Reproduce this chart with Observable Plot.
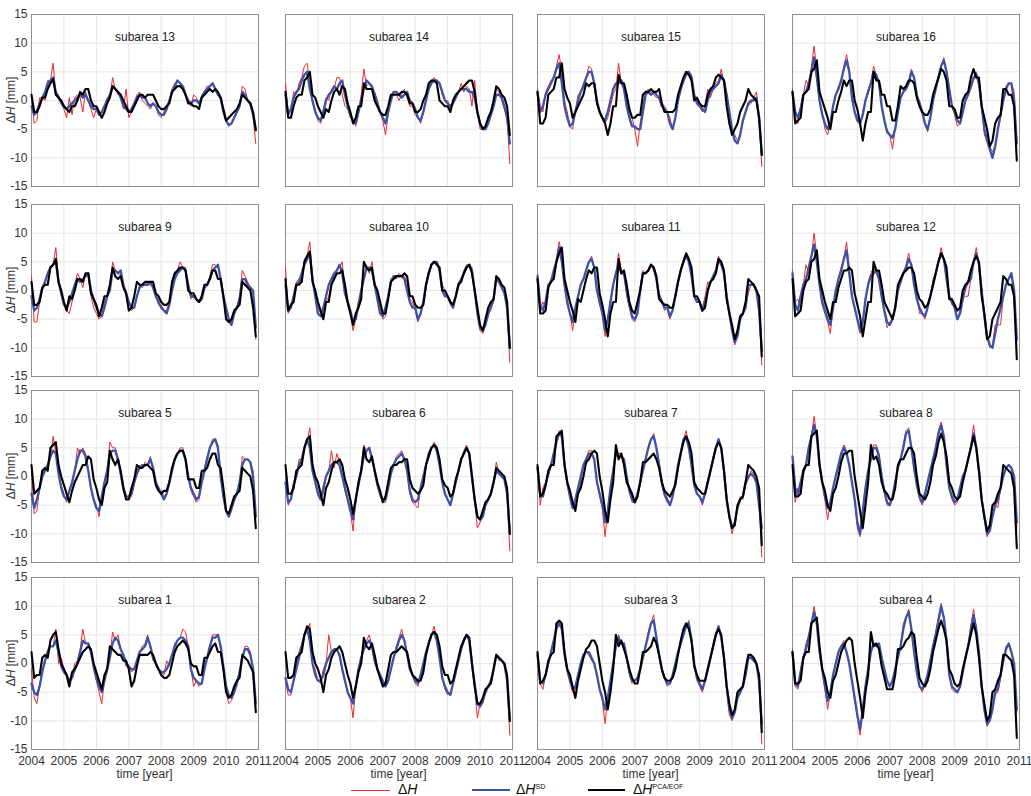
<!DOCTYPE html>
<html><head><meta charset="utf-8">
<script src="https://cdn.jsdelivr.net/npm/d3@7"></script>
<script src="https://cdn.jsdelivr.net/npm/@observablehq/plot@0.6"></script>
<style>
body{margin:0;background:#fff;}
#root{position:relative;width:1031px;height:796px;overflow:hidden;font-family:"Liberation Sans",Arial,Helvetica,sans-serif;color:#333;background:#fff;}
.panel{position:absolute;}
.ylab{position:absolute;font-size:12px;transform:translate(-50%,-50%) rotate(-90deg);white-space:nowrap;color:#333;}
.xlab{position:absolute;font-size:12px;line-height:12px;height:12px;transform:translateX(-50%);white-space:nowrap;color:#333;}
.lgline{position:absolute;height:0;}
.lgtext{position:absolute;font-size:14px;line-height:14px;height:14px;color:#111;white-space:nowrap;}
.lgtext sup{font-size:7px;line-height:7px;vertical-align:baseline;position:relative;top:-5px;}
#err{position:absolute;left:0;top:0;color:red;font-size:10px;}
</style></head>
<body><div id="root"></div>
<script>
// Monthly values 2004-01 ... 2010-12, mm.  dH = ΔH (red), sd = ΔH^SD (blue), pca = ΔH^PCA/EOF (black)
const years = [2004, 2005, 2006, 2007, 2008, 2009, 2010, 2011];
const yTicks = [-15, -10, -5, 0, 5, 10, 15];

const dH13 = [1,-4,-3.5,0.5,0.5,0,3.5,3.5,6.5,1,1,-0.5,
 -1.5,-3,0.5,-2.5,0.5,1,0.5,-2,1.5,0,-1.5,-3,
 -1.5,-2.5,-2,-1,0.5,0.5,4,2,1,1,-1.5,2,
 -3,-2,-0.5,1,1.5,0,-0.5,-1,-1.5,-0.5,-1,-2.5,
 -3,-2,-1,0,2,3,3.5,3,2.5,1,0,-1,
 1,0.5,-0.5,1,1.5,2.5,2.5,3,2,1.5,0,-2,
 -3.5,-4.5,-4,-3,-2,-1,2.5,2,0,-1,-3,-7.5];
const sd13 = [-1,-2.5,-2,-0.5,0.5,1.5,3,3.5,4,1.5,0.5,-0.5,
 -1,-1.5,-1,-0.5,0,0.5,1,0.5,1,0,-1,-1.5,
 -1.5,-2.5,-2,-1,0,1,2.5,2,1.5,0.5,-1,-1.5,
 -2,-1.5,-0.5,0.5,1,0.5,0.5,-0.5,-1,-0.5,-1,-2,
 -2.5,-2.5,-1.5,0,1.5,2.5,3.5,3,2.5,1,0,-0.5,
 0,0,-0.5,0.5,1.5,2,2.5,3,2,1,0.5,-2,
 -3.5,-4.3,-4,-3,-2,-1,1.5,1,0,-0.5,-2.5,-5];
const pca13 = [1,-2,-2,-1,0.5,0.5,2,3,3.7,1,0.5,0,
 -1,-1.5,-2,-1,-1,0,1.5,1,2,2,0,-1,
 -1,-2,-3,-2,-0.5,0.5,2.5,2,1.5,1,0,-1,
 -2,-2,-1,0,1,1,0.5,1,1,1,0,-1,
 -1.5,-1.5,-1,-0.5,1.5,2,2.5,2.5,2,1,-0.5,-0.5,
 -1,-1,-1.5,0.5,1,1.5,2,1.5,2,1.5,0.5,-1.5,
 -3.5,-3,-2.5,-2,-1.5,-0.5,1,0.5,0,-0.5,-2,-5.2];

const dH14 = [3,-2,-2,1.5,1,3,4,6,6.5,3,-0.5,-1.5,
 -3.5,-4,-1.5,0.5,0,2,2,4,4,1,-1,-1.5,
 -3,-3.5,-4.5,-2,1,5.5,2.5,3,2,1.5,0,-2,
 -3.5,-6,-2.5,1,1.5,1,0,1,2,0.5,-1,-1,
 -2.5,-3,-4,-2,0.5,2.5,3.5,4,3,3,1,0,
 0,-1.5,0,1,1.5,3,1.5,2.5,2,-1,3.5,-2,
 -5,-5,-4.5,-4,-2,-1,2,1.5,0,-1.5,-3,-11];
const sd14 = [1,-2.5,-1.5,0.5,1.5,2,3.5,4.5,5,2,0,-2,
 -3,-3.5,-2,0,1,1.5,2.5,2,3,3.5,1,-1,
 -2.5,-3.5,-4,-2,0,2,3.5,3,2.5,1,-0.5,-2,
 -3,-4,-2,0,1.5,1.5,1,0.5,1,1.5,0,-0.5,
 -1.5,-3,-3.5,-2,0,2,3,3.5,3.5,3,1.5,0,
 -0.5,-1,-0.5,0.5,1.5,2,2,2,1.5,1.5,0.5,-2,
 -4,-5,-5,-4,-2.5,-1,1,1,0.5,-1,-3,-7.5];
const pca14 = [1.5,-3,-3,-1,0.5,1,1,3.5,4,5,1,0.5,
 -1,-2,-3,-1.5,-2,0,1.5,2,1,2.5,2,-0.5,
 -2,-4,-3,-1,-1,3,2,2,2,0,-1,-2,
 -2.5,-2.5,-1,1,1,1,1,1.5,1.5,1,-0.5,-0.5,
 -2,-2,-1.5,0,1,3,3.5,3.5,3,0,-0.5,-1,
 -1,-2,0,1,1.5,2,2.5,3,3.5,3.5,1.5,-2,
 -4,-5,-4.5,-3,-2,0,2.5,2,1,0.5,-1,-6];

const dH15 = [2,-1,-2,1.5,2.5,3.5,4,6,8,5,0,-2,
 -4.5,-5,-2,1,1.5,3,4,6,5.5,2.5,0,-2,
 -3,-4,-3,-1,1,2,6.5,3,2,0,-2,-3,
 -5,-8,-4,-1,1.5,2,1.5,1,0.5,0.5,-0.5,-1,
 -2,-3,-5,-3,0,2.5,3,5,5,4.5,1,0,
 -1,-2,-1,2,0.5,2,3,3.5,5.5,3,1,-2,
 -5,-6,-7,-6,-3.5,-2,-1,-0.5,0.5,1.5,-3,-11.5];
const sd15 = [1.5,-2,-1,1,2,3,4,5.5,6.5,3,-1,-3,
 -4.5,-4,-2,0,1.5,2.5,4,5,5,3,0,-2,
 -3,-3.5,-2,0,2,3,3,3.5,2,-1,-3,-4.5,
 -4.5,-5,-5,-2,1,1.5,1,1.5,1,0.5,-1,-1.5,
 -2,-4,-5,-3,0,2,3.5,4.5,5,4,1,-0.5,
 -1,-1.5,-2,0,1.5,2,2.5,3,4.5,3.5,1,-2,
 -5,-7,-7.5,-6,-3.5,-2,-0.5,0,0,0.5,-3,-9.5];
const pca15 = [1.5,-4,-4,-3,1,1.5,2,4,4,6.5,2,0.5,
 -0.5,-3,-2,-1,0,1,3,2.5,3,3,-0.5,-2,
 -3,-4,-6,-4,-1,-1,4.5,3,3,1,-1.5,-3,
 -3,-2.5,-2.5,1,1.5,1.5,2,1.5,1.5,2,-0.5,-2,
 -2,-2,-2,-1.5,1,2.5,4,5,4.5,3.5,0,0.5,
 -0.5,-1,-1,1,2,2.5,4,4.5,4,3.5,-1,-4,
 -6,-5,-4,-2,-1,0,2,1,0.5,0,-3,-9.5];

const dH16 = [2,-3,-4,-1,1,3.5,2.5,6,9.5,5,0,-2,
 -5,-6,-4,-1,1,2.5,3,6,8,5.5,0,-2,
 -3,-4.5,-2,0,2,3,6,4.5,3,-1,-3.5,-5,
 -6,-8.5,-5,-2,0.5,1.5,2,3.5,5.5,4,0.5,0,
 -2,-4,-5.5,-3,0,2,4,6,7.5,5,2,-1,
 -2.5,-4.5,-4,-2,0,1.5,2,3.5,5,2.5,-1,-6,
 -7,-8,-9,-8,-5,-3,0,2.5,3,3,1.5,-7];
const sd16 = [1.5,-2,-3,-1.5,1,1.5,3,5,7.5,4,0,-2.5,
 -4,-5,-4,-1,1,2,3.5,5.5,7,5,0.5,-2,
 -3.5,-4,-2.5,0,1.5,3,5,4.5,3,-1,-3.5,-5.5,
 -6,-6.5,-5,-2,0.5,1.5,2,3,5,4,1,-0.5,
 -2,-4,-5,-3,0,2,4,6,7,5,2,-1,
 -2,-3.5,-4,-2,0,1,2.5,4,4.5,3,-1,-5,
 -7,-8.5,-10,-8,-5,-2.5,0,2,3,3,0,-7.5];
const pca16 = [1.5,-4,-3.5,-3,1,1.5,2,5,5.5,7,1.5,0,
 -1.5,-3,-5,-2,-2,0,1.5,3.5,2.5,3.5,3.5,0,
 -1.5,-4,-7,-4,-2,-2,5,3.5,3.5,1,1,-1,
 -1,-3.5,-3.5,-1,2.5,2,2.5,3.5,3.5,3,0.5,-1,
 -2,-2.5,-2.5,-1.5,1,2.5,4,5.5,5,3.5,-1,-1,
 -1.5,-3,-3,0,1,1.5,4,5.5,4,4,-1,-3,
 -5,-8,-7,-4,-3,-2.5,2,2,1,1,-1,-10.5];

const dH9 = [2.5,-5.5,-5.5,-2,0,1,1,4,4.5,7.5,2,-0.5,
 -2.5,-3.5,-4,-2,1,3,2,0.5,3,2.5,-1,-3,
 -4,-5,-4.5,-2,-1,0,5,3.5,3,2.5,1,0,
 -2,-3.5,-3,-1,1,0.5,1.5,1,1,0.5,-1,-2.5,
 -2.5,-3.5,-3.5,-2,0,2.5,3.5,5,4,4,1,-1.5,
 -1,-1.5,-2,-1,1,1,2.5,4.5,4.5,4,2,-1,
 -3,-5.5,-6,-4,-3,-1,3.5,2.5,1.5,0.5,0,-8.5];
const sd9 = [-1,-3.5,-3,-1.5,0.5,1.5,3,4,4.5,5,1.5,-0.5,
 -2.5,-3,-2,-0.5,1,2,1.5,2,2.5,3,0,-1.5,
 -3,-4,-4.5,-3,-1,0,3.5,3.5,3,3.5,1,-0.5,
 -2,-3,-3,-1,0.5,1,1,1,1.5,0.5,-1,-2,
 -3,-3.5,-4,-2.5,0,2,3,3.5,4,3.5,1,-1,
 -1,-1.5,-2,-1.5,0.5,1,2,3.5,4,4.5,2,-1,
 -3,-5,-6,-4,-3,-1.5,2,2,1,0.5,0,-6.5];
const pca9 = [1.5,-2.5,-2.5,-2,0.5,1,1,4,4.5,5.5,1.5,0,
 -2,-3.5,-1,-1.5,0,2,2,1.5,3,3,-0.5,-1.5,
 -2.5,-4.5,-3,-1,-1,1,4,2.5,2,2.5,0.5,-0.5,
 -3.5,-3,-1,1.5,1,1,1.5,1.5,1.5,1.5,-0.5,-1,
 -2,-2.5,-2.5,-2,1.5,3,3.5,4,4,3.5,0,-0.5,
 -0.5,-1.5,-2,-1,1,1,2,3.5,3.5,2,2,-1,
 -5,-5.5,-5,-3.5,-3,-2.5,1.5,1,0.5,0,-3,-8];

const dH10 = [4,-4,-3,-1,1.5,2,1.5,5.5,6,8.5,2,0,
 -3,-4,-5,-2,-1,1.5,2.5,3.5,4,5,-0.5,-2.5,
 -4,-7,-5,-2,-1,5,4,3,5,0.5,-0.5,-3,
 -5,-4.5,-1,2,2.5,2,3,2.5,2.5,1.5,-1.5,-2,
 -3.5,-5.5,-4,-2,1,3.5,4.5,5,5,3.5,1,0,
 -1,-2.5,-3,-1,1.5,2,3.5,4.5,4.5,4,0,-4,
 -7,-7.5,-6,-4.5,-3,-2,2.5,1.5,0.5,0,-3,-12.5];
const sd10 = [1,-3.5,-3,-1,1,1.5,3,4.5,5.5,6.5,2,-1,
 -4,-4.5,-3,-1,1,2,3,3.5,4.5,3,-0.5,-2,
 -3.5,-5.5,-5,-2.5,0,2,4,4,3.5,1,-1.5,-4,
 -4.5,-3,-1,1.5,2.5,2.5,2.5,2.5,2,0,-2,-3,
 -3,-5,-4,-2,1,3,4.5,5,5,3.5,0,-1,
 -1,-2,-3,-1,1,2,3,4,4.5,3.5,0,-4,
 -6.5,-7,-6,-4,-3,-1.5,2,1.5,0.5,-0.5,-3,-10];
const pca10 = [2,-3.5,-2.5,-2,1,1,1.5,5,6,6.8,1.5,0,
 -2,-3.5,-5,-2,-2,1,2,3,3,3.5,1,-2,
 -4,-6,-4,-3,-1.5,5,4,3.5,4,1,0,-2,
 -4,-4,-1.5,1.5,2,2.5,2.5,2.5,3,2.5,-1,-1,
 -2.5,-3,-3,-2.5,1,3,4.5,5,4.5,4,0,0,
 -1,-2,-2.5,-1,1,1.5,3,4,4.5,3,0,-3,
 -6,-7,-5,-3,-2,-1.5,2.5,2,1,0.5,-2,-10];

const dH11 = [3,-3.5,-2,-3,1,2,3,5.5,8.5,6.5,1,-2.5,
 -4,-7,-3.5,-1.5,1,2,3.5,5,6,4,0,-2.5,
 -4,-8,-5,-1.5,1,3,6.5,3.5,3,-1,-3,-5,
 -5.5,-4,0.5,3.5,3,3.5,4.5,3.5,2,-0.5,-1.5,-3.5,
 -3,-5,-3.5,-1,1.5,3.5,5.5,6.5,5,3,-1,-2,
 -2,-3,-1,1.5,1,2.5,3.5,6,4.5,3,-1,-4,
 -7,-9.5,-8,-5,-4,-3,-0.5,1,1,0.5,-3.5,-13];
const sd11 = [2.5,-2.5,-3.5,-2,1,1.5,3.5,5,7.5,5,1,-2,
 -4,-5.5,-3,-1,1,2,3.5,5,5.5,4,0,-2,
 -4,-7,-5,-2,1,3,4.5,3,3,0,-2.5,-4.5,
 -5,-4,0,3,3,3.5,4.5,4,2,-1,-2,-3,
 -3,-4.5,-3.5,-1,1.5,3.5,5,6,5,2.5,-1,-2,
 -2,-3.5,-2,0,1.5,2.5,3.5,5.5,4.5,3,-1,-4,
 -7,-9,-8,-5,-4,-3,1,1,1,0,-3.5,-10.5];
const pca11 = [2,-4,-4,-3.5,0.5,1.5,2,5,6.5,7.5,2,0,
 -2,-3.5,-5.5,-1.5,-2,0,2,3.5,3,4,4,-0.5,
 -2.5,-5,-8,-4,-2,-2,5.5,3,3.5,1,-2,-3.5,
 -4,-2,0,3,3,3.5,4.5,4,2.5,-1.5,-2,-2.5,
 -2.5,-3,-3,-1,1.5,3.5,5,6.5,5.5,4,-1,-1,
 -2,-3.5,-3,0,1.5,2,3,5.5,5,3.5,-1.5,-4,
 -6,-8.5,-7,-4.5,-4,-2,2,1.5,1,0,-1,-11.5];

const dH12 = [3.5,-2,-1.5,-3,1,4.5,3,6,10,6,1,-2.5,
 -4,-5.5,-7.5,-3,0,2,4,5.5,8.5,4,-1,-3,
 -5,-7.5,-5.5,-2,1.5,3,4,3,2,-1.5,-4,-6.5,
 -5.5,-5,-3,0,2,3,4.5,6.5,4,1,-1,-4,
 -4,-5,-3,-1,2,3,5,7.5,5.5,2.5,-1,-2.5,
 -3,-5,-3.5,-1.5,-1,-1,2,5,7.5,4.5,0.5,-4,
 -8,-10,-9.5,-6,-6,-6,-1,1,2,2.5,0,-9];
const sd12 = [3,-2.5,-3.5,-1,1,2,4,6,8,5,1,-2,
 -3.5,-5,-6,-3,0,2,3.5,5.5,7,3,-1,-3,
 -5,-7,-5.5,-1.5,1,2.5,3,3.5,2,-1,-3.5,-5.5,
 -6,-5,-3,0,1.5,3,4,5.5,4.5,1,-1.5,-3,
 -4,-4.5,-3,-1,1,3,5,6.5,5.5,2,-1,-2,
 -3,-5,-4,-1.5,0.5,1.5,2,5,6.5,4.5,0,-4.5,
 -8,-9.5,-10,-7.5,-5,-3,-1,1,2,3,0,-8.5];
const pca12 = [2,-4.5,-4,-3.5,0,1.5,2,5,5.5,7,2,0,
 -2,-3.5,-5,-2,-2,0.5,2,3.5,3.5,4,3.5,-0.5,
 -2.5,-4.5,-8,-5,-2,-2,5,3.5,3.5,1,-2,-3,
 -4,-5,-3,1,2,3,3.5,4,4,3,0,-1.5,
 -2,-3,-2.5,-1,1,3,5,6.5,5.5,4,-1.5,-1.5,
 -2.5,-3.5,-3,0,1,1.5,3.5,5,6,5,-1,-4,
 -8.5,-8,-5,-4,-3,-2,2.5,2,1,1,-1,-12];

const dH5 = [1,-6.5,-6,-2,0,1.5,2,3,7,4,1,-1.5,
 -3,-4.5,-2.5,-1.5,1,5,4,5,4,1,-2,-4,
 -5,-7,-3.5,-1,1,6,5,5,3,0,-2.5,-3.5,
 -4,-3.5,-1.5,1,2,1.5,2.5,2,3.5,1,-1,-2.5,
 -2.5,-3.5,-3,-1,1,3,4,5,5,3,0,-2.5,
 -3.5,-4.5,-4,-1,1.5,3.5,5,6.5,6.5,5.5,0.5,-3.5,
 -6,-7,-6,-4.5,-3,-1,3.5,3,3,2.5,1,-7];
const sd5 = [-3,-5.5,-4,-2,0,1,2,3.5,4.5,4,0.5,-2,
 -3.5,-4,-2.5,-1,1,3,4.5,4.5,3.5,1,-2,-4,
 -5.5,-6,-3.5,-1,1,4,4.5,4.5,3,0.5,-2,-3.5,
 -3.5,-3,-1,0.5,1.5,2,2,2,3,1.5,-1,-2,
 -3,-4,-3,-1,1,3,4,4.5,4.5,3,0,-2,
 -3,-4,-3.5,-1,1,3,5,6,6.5,5,0,-3.5,
 -6,-7,-5.5,-4,-3,-1,2,3,3,2.5,0,-7];
const pca5 = [2,-3,-2.5,-2,1,1.5,1,5,5.5,6,2,0,
 -1.5,-3,-4.5,-2.5,-1,0,1,2,2,3.5,3,-0.5,
 -2,-4,-5,-2,-1,4.5,3,2,3,1,-2,-4,
 -4,-2,-0.5,2,1.5,1.5,2,2,1.5,1,-1.5,-2.5,
 -3,-2.5,-2.5,-1,1.5,3,4,4.5,4.5,3,-0.5,-0.5,
 -0.5,-2,-2,1,1,1.5,3,4,4,2,1.5,-2,
 -6,-6.5,-5,-3.5,-3,-2.5,1.5,1,0.5,0,-2.5,-9];

const dH6 = [2,-5,-4,-1,0,3,3,5,6,8.5,2,-0.5,
 -2.5,-4,-3,0,1,4.5,1.5,4,2.5,0,-2.5,-4,
 -6,-9.5,-4,-1.5,1,5.5,4.5,5,3.5,0.5,-1.5,-3.5,
 -4.5,-4.5,-2,1,2,3.5,4,4.5,3,1,-3,-4.5,
 -5,-5.5,-2,0,2,4,5,6,5,2,-1,-3,
 -4,-5,-3,-1,1,3,4.5,5.5,4,0,-4.5,-9,
 -8,-7,-5,-4,-3,-1,2.5,0.5,0,-0.5,-3,-13];
const sd6 = [-1,-4.5,-4,-1.5,0,2,3,5,6.5,5,1,-1,
 -3,-4,-2,0,1,2,2.5,2.5,2,0,-2,-4,
 -6,-7.5,-4,-1.5,1,3.5,4.5,5,3,1,-1.5,-3,
 -4,-4,-2,0.5,2,3,3.5,4,3,1,-2.5,-4,
 -4.5,-4,-2,0,2,4,5,5.5,4.5,2,-1,-3,
 -4,-5,-3,-1,1,3,4,5,4,0,-4,-7,
 -7.5,-7,-5,-4,-3,-1,1,0.5,0,-0.5,-3,-10];
const pca6 = [2,-3,-3,-2,1,1.5,2,5,6.5,7,2,0,
 -1,-3,-5,-2,-1,1,2.5,2.5,3,2,-0.5,-2,
 -4,-6.5,-4,-1,1,5,3,2.5,3.5,1,-1,-2.5,
 -4.5,-3.5,-1,1.5,2,2,2.5,2.5,3,3,-0.5,-2,
 -2.5,-3,-2.5,-1.5,2,3.5,5,5.5,5,3,-0.5,-1.5,
 -2,-3.5,-3,-0.5,1,3,4,5,4,0,-4,-7,
 -7.5,-6,-4.5,-4,-3,-1,1.5,1,0.5,0,-2,-10];

const dH7 = [2,-5,-2,-1,0,2,4,6,8,7.5,2,-1.5,
 -3.5,-5,-5.5,-3,-1,2,3,4.5,4.5,3,-1,-3.5,
 -5.5,-10.5,-6,-2,1,5,4,4,3,0,-2.5,-4.5,
 -4.5,-3,-1.5,1.5,3,5,6.5,7.5,5,2.5,-1.5,-3.5,
 -4.5,-5,-3.5,-1,2,4.5,6.5,8,5.5,1.5,-1.5,-3,
 -3.5,-5,-3,-1,1,3.5,5,6.5,5,1,-4,-7.5,
 -10,-8,-5.5,-3.5,-4,-1.5,-0.5,1,0.5,-1,-5,-14];
const sd7 = [1.5,-3,-3.5,-1.5,0.5,2,4,6,7.5,7,2,-1,
 -3.5,-5.5,-4,-2,0,2,3,4,4,3,-1,-3,
 -5,-8,-6,-2,1,4,3.5,3.5,3,0,-2.5,-4,
 -4.5,-3,-1,1,3,5,6.5,7,5,2,-1,-3,
 -4,-5,-3.5,-1,2,4,6.5,7,5,2,-1.5,-3,
 -3.5,-4.5,-3,-1,1,3,5,6.5,5,1,-4,-7,
 -9,-8,-5.5,-4,-3.5,-1,0,0.5,0,-1,-5,-9];
const pca7 = [2,-3.5,-3,-1.5,1,2,2,7,7.5,8,2,-1,
 -2.5,-4.5,-6,-3,-2,0,2.5,3,4,4.5,4,0,
 -2.5,-6,-8,-4,-1,5.5,3,4,2,-1,-2,-3,
 -4.5,-3.5,-1,2.5,2.5,3,3.5,4,3,1.5,-1,-2.5,
 -3,-3.5,-2.5,-1.5,1.5,4,6,7,6,4,-1,-2,
 -2.5,-3,-3,-1,1,3,5,6,5,1,-4,-7,
 -9,-8.5,-5,-4,-3.5,-1,2,1.5,1,0,-2,-12];

const dH8 = [3,-4.5,-2,-3,0,2,5,7,10.5,7,2,-1,
 -4,-7.5,-4.5,-2,0,2,4,5.5,4.5,2,-1,-4,
 -9,-10.5,-6,-2,1,3,5.5,5.5,4,0,-3,-5,
 -5,-4,-1,1.5,3,5.5,8,8.5,5,1,-1.5,-4,
 -5,-3.5,-1,1,3,5,8,9.5,7,2,-2,-4,
 -5,-4.5,-2.5,0,1,3,5.5,9,5.5,1,-4,-7.5,
 -10.5,-9.5,-7,-5,-5.5,-2,0,1.5,2,1.5,0,-9];
const sd8 = [3.5,-2,-3,-1,1,2,5,7,9,7,2,-1,
 -3.5,-5.5,-4.5,-2,0,2,4,5,4,2,-1,-4,
 -8,-10,-6,-2,1,3,5,5,3.5,0,-2.5,-4.5,
 -5,-3.5,-1,1.5,3,5,7.5,8,5,1.5,-1.5,-3.5,
 -4.5,-3,-1,1,3,5,7.5,9,7,2,-2,-3.5,
 -4.5,-4,-2,0,1,3,5,7.5,5,1,-4,-7,
 -10,-9.5,-7,-5,-4,-2,0,1.5,2,1.5,0,-8];
const pca8 = [2,-3.5,-3.5,-3,1,2,2,7,7.5,8,2,-1,
 -2.5,-5,-6,-3,-2,0,2.5,4,4,4.5,4.5,0,
 -3,-6,-9,-5,-1,5.5,3,3.5,2,-1,-2.5,-3,
 -4,-4,-2,2,3,3,4,5,5,4,0,-3,
 -3.5,-4,-3,-1,2,3.5,6,7.5,6,3.5,-1,-2,
 -3.5,-4,-3.5,-1,1,3,5,7,5,1,-4,-7,
 -9.5,-8.5,-5,-4.5,-3,-2,2,1.5,1,0.5,-2,-12.5];

const dH1 = [-1,-6,-7,-4,-1,0,2.5,3,3,6,0,1,
 -1,-2,-4,-2,0,0.5,2.5,6,3.5,3.5,2,-1,
 -3,-5,-7,-3,-0.5,1,5.5,4,5,2.5,1.5,-0.5,
 -0.5,-1.5,-1,0,2,3,3.5,5,2.5,0.5,0,-1,
 -1.5,-2,0.5,-0.5,1.5,3.5,4,4.5,6,5.5,3,-1,
 -4,-3,-4,-3.5,-1,1,3,5,5,5,2.5,-1,
 -5,-7,-6.5,-5,-3,-1.5,1,3,3,2,-1,-8.5];
const sd1 = [-3.5,-5,-5.5,-4,-1.5,0.5,2,3,3,4,2,-0.5,
 -1.5,-2,-3,-2.5,-1,0,2,4,3.5,3.5,2,-0.5,
 -2.5,-4,-5,-3,-1,1,3.5,4.5,4,2.5,1.5,0,
 -0.5,-1,-1,0.5,2,2.5,3,4.5,3,1,0,-1,
 -1.5,-1.5,-1,0,1.5,3,4,4.5,4.5,4,3,-1,
 -2.5,-3,-3.5,-3.5,-1,1,3,4.5,4.5,5,3,-0.5,
 -4,-5.5,-6,-5,-3.5,-1.5,1,2.5,2.5,1.5,-1,-7];
const pca1 = [2,-2.5,-2,-2,1,1.5,1,4,5,5.5,2.5,0,
 -1,-2,-4,-1.5,-1,0,1,2,2.5,3,2.5,0,
 -1.5,-3,-4.5,-2,-1,3,2.5,2,1.5,1.5,0.5,0.5,
 -1,-4,-3,-0.5,1.5,1.5,1.5,1.5,2,1.5,0,-1,
 -2,-2.5,-2.5,-2,0,2,3,3.5,4,3.5,2.5,0,
 -0.5,-0.5,-2,-2,1,1,2,3,3.5,2,2,-1,
 -5,-6,-5.5,-4,-3,-2.5,1.5,1,0.5,-0.5,-1.5,-8.5];

const dH2 = [-3,-5.5,-5.5,-3,0,2,3.5,5,5.5,7,0,-1,
 -3,-3.5,-1,0,5,2,2.5,2.5,1,-1,-3,-5,
 -6,-9.5,-4,-1,1,3,4,5,3,0,-1,-2,
 -3.5,-4,-3,-1,1,3,4.5,6,4,1.5,-1,-2,
 -3.5,-4,-2,0,2,3.5,5,6.5,4,1,-2.5,-4.5,
 -5.5,-5,-3.5,-2,1,2.5,4.5,5,4,0,-4,-9.5,
 -7,-7,-5,-4,-3,-1,1.5,0.5,0.5,-0.5,-3,-12.5];
const sd2 = [-2.5,-4.5,-5,-3,-1,1,3,5,6,4,0,-2,
 -3,-3,-2,0,1,2,2.5,2.5,1.5,-1,-3,-5,
 -6,-7,-4,-1,1,2.5,3.5,4,3,0.5,-1,-2,
 -3,-4,-3,-1,1,2.5,4,5,4,1.5,-1,-2,
 -3,-3.5,-2,0,2,3.5,5,5.5,4,1,-2.5,-4,
 -5,-5.5,-3.5,-1.5,0.5,2.5,4,5,4,0,-3.5,-7,
 -7.5,-6.5,-5,-4,-3,-1,1.5,1,0.5,0,-3,-10];
const pca2 = [2,-2.5,-2.5,-2,1,1.5,2,5,6.5,6,2,0,
 -1,-2.5,-5,-2,-1,1,2,2.5,3,2,0,-2,
 -3.5,-6,-4,-1.5,0,4.5,3,2.5,3.5,1.5,-1,-2.5,
 -4,-3.5,-1,1.5,2,2,2.5,3,2.5,2,-0.5,-2,
 -2.5,-3,-3,-1.5,1.5,3.5,5,5.5,5,3,-0.5,-2,
 -2,-3.5,-3,-1,1,3,4,5,4.5,0,-4,-7,
 -7,-6,-4.5,-4,-3.5,-1,1.5,1,0.5,0,-2,-10];

const dH3 = [2,-3.5,-4.5,-2,0,2,4,6,7.5,6,1.5,-1.5,
 -3,-5,-4.5,-2,0,1.5,2,1.5,0.5,0,-2,-4.5,
 -6.5,-10.5,-6,-3,0,3.5,5,3.5,3.5,1,-2,-3.5,
 -3,-2.5,-1,1.5,3,5.5,7,8.5,4.5,1.5,-1,-2.5,
 -4,-3.5,-2,0,2,3.5,5.5,6.5,7.5,4,0,-3,
 -4,-5,-3,-1,1,3.5,5.5,6,4.5,1,-4.5,-9,
 -10,-8.5,-6,-4.5,-4,-2,1.5,1,0.5,0,-3,-14];
const sd3 = [1.5,-3,-3.5,-2,0,2,4,6,7,6,1.5,-1,
 -3,-4.5,-4,-2,0,1.5,2,2,1,0,-2,-4.5,
 -6,-8,-6,-3,0,3,4.5,3.5,3.5,1,-1.5,-3,
 -3,-2.5,-1,1,3,5,7,7.5,4.5,1.5,-1,-2.5,
 -3.5,-3.5,-2,0,2,3.5,5,6.5,7,4,0,-2.5,
 -3.5,-4.5,-3,-1,1,3,5,6.5,4.5,1,-4,-8,
 -9.5,-8.5,-6,-5,-4,-2,1,1,0.5,0,-3,-10.5];
const pca3 = [2,-3.5,-3,-2,0.5,1.5,2,7,7.5,7,2,-1,
 -2,-4,-6,-3,-1,1,2.5,3,4,4,3,0,
 -3,-5,-8,-5,-1,5,3,4,2.5,1,-1,-2.5,
 -3.5,-3.5,-1,2,2,2.5,3,4.5,3.5,1.5,-1,-2.5,
 -3,-3,-2.5,-1,1.5,4,6,7,6,4,-0.5,-2,
 -3,-3,-3,-1,1,3,5,6,5,1,-4,-7,
 -9,-8,-5,-4.5,-4,-1,1.5,1.5,1,0,-2,-12];

const dH4 = [2.5,-4,-4.5,-1,1,3.5,5,7,10,7,2,-1,
 -4.5,-8,-5,-2,0,2,3,4,2,0,-3,-6.5,
 -9.5,-12.5,-8,-4,-1,2,3.5,3,3.5,1,-1,-3,
 -4,-3,-1,1,3,7,8,9.5,6,2,-1.5,-4,
 -5,-3.5,-2,0.5,3,5.5,8,10.5,8,4,-2,-4.5,
 -5,-5,-4,-1.5,1,3,6.5,9.5,6,2,-4,-8.5,
 -11,-10,-8,-5.5,-5,-2.5,0,3,3.5,2,0,-8.5];
const sd4 = [2,-3.5,-4,-1.5,1,2.5,4.5,7,9,7,2,-1,
 -4,-6.5,-5,-2,0,2,3,3.5,2,0,-3,-6,
 -9,-11.5,-8,-4,-1,2,3.5,3,3.5,1,-1,-3,
 -4,-3,-1,1,3,6,8,9,6,2,-1.5,-4,
 -4.5,-3.5,-2,0.5,3,5,7.5,10,8,4,-2,-4,
 -4.5,-5,-4,-1.5,1,3,6,8.5,6,2,-4,-8,
 -10.5,-10,-8,-5,-4.5,-2,0.5,2.5,3.5,2,0,-8];
const pca4 = [2,-3.5,-3.5,-3,1,2,2,7,7.5,8,3,-1,
 -2.5,-5,-6,-3,-2,0,2,3,4,4.5,4,0,
 -3,-6,-9.5,-5,-2,5.5,3,3.5,2.5,-0.5,-2.5,-4.5,
 -4.5,-4.5,-2,2.5,2.5,3,4,4.5,5.5,5,1,-2.5,
 -3.5,-4,-3,-1,2,4,6,7.5,6,4,-1,-2,
 -3.5,-4,-3.5,-1,1,3,5,7,5,1,-4,-7,
 -10,-9,-5,-4.5,-3,-2,1.5,1.5,1,0.5,-2,-13];

// grid order of panels (rows top to bottom)
const panelGrid = [[13, 14, 15, 16], [9, 10, 11, 12], [5, 6, 7, 8], [1, 2, 3, 4]];
const seriesById = {
  1: [dH1, sd1, pca1], 2: [dH2, sd2, pca2], 3: [dH3, sd3, pca3], 4: [dH4, sd4, pca4],
  5: [dH5, sd5, pca5], 6: [dH6, sd6, pca6], 7: [dH7, sd7, pca7], 8: [dH8, sd8, pca8],
  9: [dH9, sd9, pca9], 10: [dH10, sd10, pca10], 11: [dH11, sd11, pca11], 12: [dH12, sd12, pca12],
  13: [dH13, sd13, pca13], 14: [dH14, sd14, pca14], 15: [dH15, sd15, pca15], 16: [dH16, sd16, pca16]
};
const colors = ["#ec2a2f", "#3c52ab", "#000000"];
const widths = [1, 2.3, 2.1];

const root = document.getElementById("root");
const colX = [31, 285, 537, 792];
const rowY = [14, 204, 390, 577];
const W = 227, H = 172;
const FONT = "'Liberation Sans', Arial, Helvetica, sans-serif";
const bad = [];

panelGrid.forEach((row, r) => {
  row.forEach((id, c) => {
    const ser = seriesById[id];
    ser.forEach((a, k) => { if (a.length !== 84) bad.push(id + ":" + k + ":" + a.length); });
    const ml = c === 0 ? 31 : 1;
    const mb = r === 3 ? 22 : 1;
    const svg = Plot.plot({
      width: W + ml + 1, height: H + 1 + mb,
      marginLeft: ml, marginRight: 1, marginTop: 1, marginBottom: mb,
      style: {fontFamily: FONT, fontSize: "12px", color: "#333", background: "transparent", overflow: "visible"},
      x: {domain: [2004, 2011], ticks: years, tickFormat: d => String(d), tickSize: 0, tickPadding: 7,
          axis: r === 3 ? "bottom" : null, label: null},
      y: {domain: [-15, 15], ticks: yTicks, tickFormat: d => String(d), tickSize: 0, tickPadding: 4,
          axis: c === 0 ? "left" : null, label: null},
      marks: [
        Plot.ruleX(years, {stroke: "#e6e6e6", strokeWidth: 1}),
        Plot.ruleY(yTicks, {stroke: "#e6e6e6", strokeWidth: 1}),
        Plot.frame({stroke: "#8f8f8f", strokeWidth: 1}),
        ...ser.map((a, k) => Plot.line(a, {x: (d, i) => 2004 + i / 12, y: d => d,
          stroke: colors[k], strokeWidth: widths[k], strokeLinejoin: "round"})),
        Plot.text([`subarea ${id}`], {text: d => d, frameAnchor: "top", dy: 18, fontSize: 12, fill: "#222"})
      ]
    });
    svg.classList.add("panel");
    svg.style.left = (colX[c] - ml) + "px";
    svg.style.top = (rowY[r] - 1) + "px";
    svg.style.position = "absolute";
    root.appendChild(svg);
  });
});

// y labels
rowY.forEach(y => {
  const d = document.createElement("div");
  d.className = "ylab";
  d.innerHTML = "Δ<i>H</i> [mm]";
  d.style.left = "11px"; d.style.top = (y + H / 2) + "px";
  root.appendChild(d);
});
// x labels
colX.forEach(x => {
  const d = document.createElement("div");
  d.className = "xlab";
  d.textContent = "time [year]";
  d.style.left = (x + W / 2) + "px"; d.style.top = "768px";
  root.appendChild(d);
});
// legend
const leg = [
  {x1: 351, x2: 390, tx: 398, html: "Δ<i>H</i>"},
  {x1: 472, x2: 510, tx: 516, html: "Δ<i>H</i><sup>SD</sup>"},
  {x1: 588, x2: 625, tx: 633, html: "Δ<i>H</i><sup>PCA/EOF</sup>"}
];
leg.forEach((l, k) => {
  const ln = document.createElement("div");
  ln.className = "lgline";
  ln.style.left = l.x1 + "px"; ln.style.width = (l.x2 - l.x1) + "px";
  ln.style.top = (790 - widths[k] / 2) + "px";
  ln.style.borderTop = widths[k] + "px solid " + colors[k];
  root.appendChild(ln);
  const t = document.createElement("div");
  t.className = "lgtext";
  t.innerHTML = l.html;
  t.style.left = l.tx + "px"; t.style.top = "782px";
  root.appendChild(t);
});
if (bad.length) { const e = document.createElement("div"); e.id = "err"; e.textContent = "BAD " + bad.join(" "); root.appendChild(e); }
</script>
</body></html>
